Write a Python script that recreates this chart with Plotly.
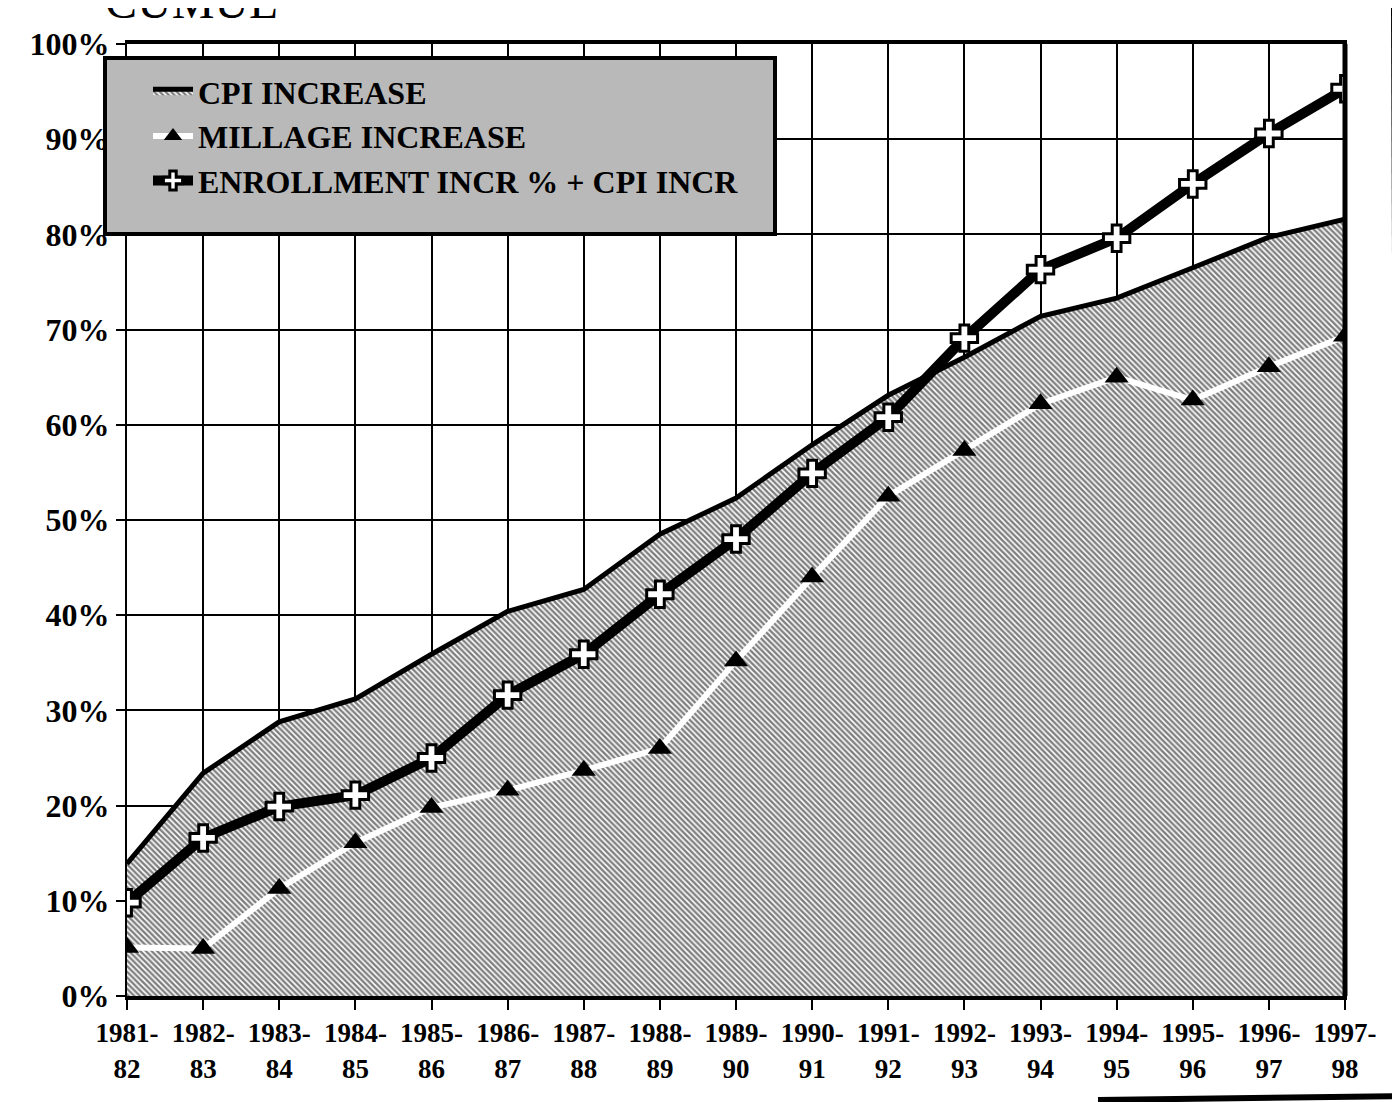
import plotly.graph_objects as go

years = ["1981-<br>82", "1982-<br>83", "1983-<br>84", "1984-<br>85", "1985-<br>86",
         "1986-<br>87", "1987-<br>88", "1988-<br>89", "1989-<br>90", "1990-<br>91",
         "1991-<br>92", "1992-<br>93", "1993-<br>94", "1994-<br>95", "1995-<br>96",
         "1996-<br>97", "1997-<br>98"]

cpi_increase = [13.9, 23.4, 28.8, 31.2, 35.9, 40.4, 42.7, 48.5, 52.3, 57.9,
                63.1, 67.1, 71.4, 73.3, 76.5, 79.7, 81.6]
millage_increase = [5.1, 5.0, 11.3, 16.1, 19.8, 21.6, 23.7, 26.0, 35.2, 44.0,
                    52.5, 57.3, 62.2, 65.0, 62.6, 66.1, 69.3]
enrollment_cpi = [9.8, 16.6, 19.9, 21.1, 25.0, 31.6, 35.9, 42.2, 48.0, 54.9,
                  60.8, 69.1, 76.3, 79.6, 85.3, 90.6, 95.3]

y_ticks = [0, 10, 20, 30, 40, 50, 60, 70, 80, 90, 100]
y_tick_text = [f"{v}%" for v in y_ticks]

FONT = "Liberation Serif"
L, T, PW, PH = 119, 36, 1218, 952


def px_x(p):
    return (p - L) / PW


def px_y(p):
    return 1 - (p - T) / PH


fig = go.Figure()

fig.add_trace(go.Scatter(
    x=years, y=cpi_increase, name="CPI INCREASE", mode="lines",
    line=dict(color="black", width=5),
    fill="tozeroy", fillcolor="white",
    fillpattern=dict(shape="\\", size=4, solidity=0.6, fgcolor="black", bgcolor="white"),
))
fig.add_trace(go.Scatter(
    x=years, y=millage_increase, name="MILLAGE INCREASE", mode="lines+markers",
    line=dict(color="white", width=6),
    marker=dict(symbol="triangle-up", size=21, color="black", line=dict(width=0)),
))
fig.add_trace(go.Scatter(
    x=years, y=enrollment_cpi, name="ENROLLMENT INCR % + CPI INCR", mode="lines+markers",
    line=dict(color="black", width=10),
    marker=dict(symbol="cross", size=22, color="white", line=dict(color="black", width=3)),
))

fig.update_layout(
    width=1400, height=1102,
    margin=dict(l=L, r=1400 - L - PW, t=T, b=1102 - T - PH),
    paper_bgcolor="white", plot_bgcolor="white",
    font=dict(family=FONT, color="black"),
    showlegend=True,
    legend=dict(
        x=px_x(140), y=px_y(56), xanchor="left", yanchor="top",
        bgcolor="rgba(0,0,0,0)", borderwidth=0,
        font=dict(family=FONT, size=32, color="black", weight="bold"),
        itemwidth=40, tracegroupgap=0,
    ),
    xaxis=dict(
        type="category", range=[0, 16],
        showgrid=True, gridcolor="black", gridwidth=2,
        showline=True, linecolor="black", linewidth=4, mirror=True,
        ticks="outside", ticklen=10, tickwidth=2, tickcolor="black",
        tickfont=dict(family=FONT, size=27, color="black", weight="bold"),
        tickangle=0,
    ),
    yaxis=dict(
        range=[0, 100], tickvals=y_ticks, ticktext=y_tick_text,
        showgrid=True, gridcolor="black", gridwidth=2,
        showline=True, linecolor="black", linewidth=2, mirror=True,
        ticks="outside", ticklen=9, tickwidth=2, tickcolor="black",
        tickfont=dict(family=FONT, size=32, color="black", weight="bold"),
        zeroline=False,
    ),
    shapes=[
        dict(type="rect", xref="paper", yref="paper", layer="above",
             x0=px_x(97), x1=px_x(767), y0=px_y(226), y1=px_y(50),
             fillcolor="#b9b9b9", line=dict(color="black", width=4)),
        dict(type="line", xref="paper", yref="paper", x0=1, x1=1, y0=0, y1=1,
             line=dict(color="black", width=5)),
        dict(type="line", xref="paper", yref="paper", x0=px_x(1386), x1=px_x(1390),
             y0=px_y(0), y1=px_y(1000), line=dict(color="black", width=6)),
        dict(type="line", xref="paper", yref="paper", x0=px_x(1090), x1=px_x(1400),
             y0=px_y(1092), y1=px_y(1088), line=dict(color="black", width=6)),
    ],
    annotations=[
        dict(text="CUMUL", xref="paper", yref="paper", x=px_x(95), y=px_y(22),
             xanchor="left", yanchor="bottom", showarrow=False,
             font=dict(family=FONT, size=48, color="black")),
    ],
)

fig.write_html("out.html")
